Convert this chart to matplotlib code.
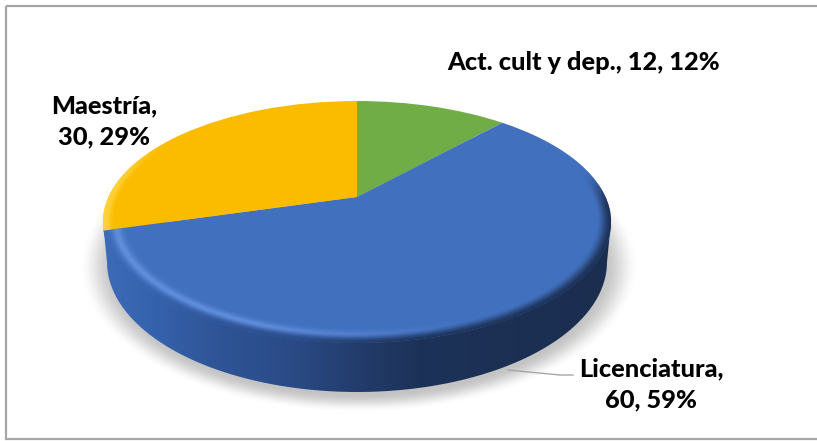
import numpy as np
import matplotlib
matplotlib.use("Agg")
import matplotlib.pyplot as plt
from matplotlib.transforms import Transform
from matplotlib.path import Path
from matplotlib.patches import PathPatch, Rectangle
from matplotlib.colors import LinearSegmentedColormap, to_rgb

categories = ["Act. cult y dep.", "Licenciatura", "Maestría"]
values = [12, 60, 30]
percents = [12, 59, 29]
colors = ["#70AD47", "#4170BE", "#FBBC00"]

W, H = 817, 441
A, B, C, D = -75.1, 197.0, 0.2066, 248.6
CX = 357.0
plt.rcParams["font.family"] = ["Lato", "DejaVu Sans"]


class Tilt(Transform):
    """Perspective view of the unit pie disc, output in pixel coordinates."""
    input_dims = output_dims = 2
    is_separable = False
    has_inverse = False

    def transform_non_affine(self, xy):
        xy = np.asarray(xy, float)
        den = 1 + C * xy[:, 1]
        return np.column_stack([CX + D * xy[:, 0] / den, (A * xy[:, 1] + B) / den])

    def transform_path_non_affine(self, path):
        return Path(self.transform_non_affine(path.vertices), path.codes)


fig = plt.figure(figsize=(W / 100, H / 100), dpi=100, facecolor="white")
ax = fig.add_axes([0, 0, 1, 1])

wedges, _ = ax.pie(values, colors=colors, startangle=90, counterclock=False,
                   radius=1.0, wedgeprops={"linewidth": 0})
tilt = Tilt()
for w in wedges:
    w.set_transform(tilt + ax.transData)
    w.set_zorder(5)

# pixel grid for shading
yy, xx = np.mgrid[0:H, 0:W]
xx = xx + 0.5
yy = yy + 0.5
ext = (0, W, H, 0)


def smooth(v, lo, hi):
    t = np.clip((v - lo) / (hi - lo), 0, 1)
    return t * t * (3 - 2 * t)


# soft shadow
d = np.sqrt(((xx - 359) / 252.0) ** 2 + ((yy - 266) / 132.0) ** 2)
sh = np.zeros((H, W, 4))
sh[..., :3] = 0.45
sh[..., 3] = 0.42 * (1 - smooth(d, 0.97, 1.11))
ax.imshow(sh, extent=ext, aspect="auto", zorder=1, interpolation="bilinear")

# side wall
side_stops = [(0.0, "#3E6BB8"), (0.10, "#3562AC"), (0.22, "#2F5597"),
              (0.38, "#2A4A85"), (0.50, "#223C6C"), (0.62, "#1D3258"),
              (1.0, "#1B2E50")]
side_cmap = LinearSegmentedColormap.from_list("side", side_stops)
xn = (xx - 103) / 508.0
t = np.linspace(np.pi, 2 * np.pi, 160)
low = np.column_stack([357 + 250 * np.cos(t), 262 - 130 * np.sin(t)])
side_path = Path(np.vstack([[[103, 222]], low, [[611, 222]], [[103, 222]]]))
clip = PathPatch(side_path, transform=ax.transData, fc="none", ec="none")
ax.add_patch(clip)
im = ax.imshow(side_cmap(np.clip(xn, 0, 1)), extent=ext, aspect="auto", zorder=2,
               interpolation="bilinear")
im.set_clip_path(clip)

# bevel on the top surface
y_u = (yy - B) / (A - C * yy)
x_u = (xx - CX) * (1 + C * y_u) / D
r = np.sqrt(x_u ** 2 + y_u ** 2)
front = smooth(-y_u, -0.25, 0.1)
dark = smooth(r, 0.945, 1.0) * front
light = np.exp(-((r - 0.955) / 0.022) ** 2) * np.clip((470 - xx) / 220, 0, 1) * front
light_rgb = np.array(to_rgb("#6E9BEA"))
ov = np.zeros((H, W, 4))
side_rgb = side_cmap(np.clip(xn, 0, 1))[..., :3]
a_d = dark * 0.95
a_l = light * 0.75
alpha = a_d + a_l * (1 - a_d)
safe = np.maximum(alpha, 1e-4)[..., None]
ov[..., :3] = (side_rgb * a_d[..., None] + light_rgb * (a_l * (1 - a_d))[..., None]) / safe
ov[..., 3] = alpha
im2 = ax.imshow(ov, extent=ext, aspect="auto", zorder=6, interpolation="bilinear")
im2.set_clip_path(wedges[1])

# lighter edge on the yellow slice
ovy = np.zeros((H, W, 4))
ovy[..., :3] = to_rgb("#FFD94D")
ovy[..., 3] = 0.75 * smooth(r, 0.955, 0.99) * smooth(-xx, -170, -110)
im3 = ax.imshow(ovy, extent=ext, aspect="auto", zorder=6, interpolation="bilinear")
im3.set_clip_path(wedges[2])

# frame (runs off the right edge) and leader
ax.add_patch(Rectangle((6.5, 5.5), 830, 433, fc="none", ec="#A6A6A6", lw=1.6, zorder=8))
ax.plot([508, 560, 573], [370, 375, 375], color="#A6A6A6", lw=1.0, zorder=7)

# labels
lab = [f"{c}, {v}, {p}%" for c, v, p in zip(categories, values, percents)]
kw = dict(fontsize=18.3, fontweight="black", color="black", ha="center", va="center",
          linespacing=1.42, zorder=9)
ax.text(583.5, 63, lab[0], **kw)
ax.text(651, 384.5, lab[1].replace(", 60", ",\n60"), **kw)
ax.text(104, 121.5, lab[2].replace(", 30", ",\n30"), **kw)

ax.set_aspect("auto")
ax.set_xlim(0, W)
ax.set_ylim(H, 0)
ax.axis("off")
fig.savefig("out.png", dpi=100)
